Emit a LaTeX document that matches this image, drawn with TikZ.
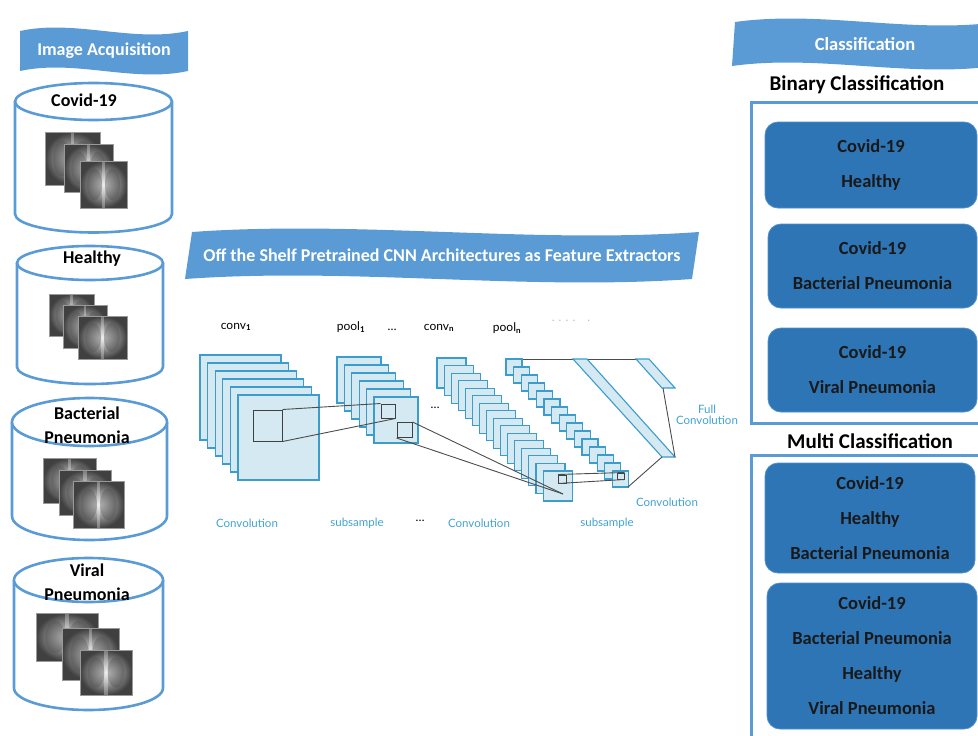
\documentclass[tikz,border=0pt]{standalone}
\usepackage{fontspec}
\setmainfont{Carlito}
\newfontfamily\latofont{Lato}
\usepackage{tikz}
\usetikzlibrary{calc}

\definecolor{bannerblue}{HTML}{5B9BD5}
\definecolor{cylblue}{HTML}{5B9BD5}
\definecolor{boxblue}{HTML}{2E75B6}
\definecolor{boxedge}{HTML}{4F8FCB}
\definecolor{framecol}{HTML}{5B9BD5}
\definecolor{cnnfill}{HTML}{D4E9F2}
\definecolor{cnnline}{HTML}{3B9DCB}
\definecolor{cnntext}{HTML}{41A3D3}

\tikzset{
	bannertext/.style={text=white, font=\bfseries, inner sep=0pt},
	cylline/.style={draw=cylblue, line width=2.6pt, fill=white},
	cyllabel/.style={font=\bfseries\fontsize{18}{24}\selectfont, align=center, inner sep=0pt},
	fmap/.style={fill=cnnfill, draw=cnnline, line width=1.1pt},
	win/.style={draw=black!75, line width=1pt, inner sep=0pt},
	link/.style={draw=black!70, line width=0.9pt},
	cnnlabel/.style={font=\latofont\fontsize{12}{13}\selectfont, inner sep=0pt},
	cnnnote/.style={font=\latofont\fontsize{11.5}{11.5}\selectfont, text=cnntext, align=center, inner sep=0pt},
	frameline/.style={draw=framecol, line width=3pt},
	classbox/.style={fill=boxblue, draw=boxedge, line width=0.8pt, rounded corners=13pt,
		font=\bfseries\fontsize{18.5}{35}\selectfont, align=center, text=black!90},
	heading/.style={font=\bfseries\fontsize{21}{24}\selectfont, inner sep=0pt}
}

\newcommand{\banner}[7] % name, left x, top y, right x, bottom y, slant, text
{
	% wavy flag
	\fill[bannerblue] ({#2+#6},#3) .. controls ({#2+#6+0.33*(#4-#2)},{#3-12}) and ({#2+#6+0.67*(#4-#2)},{#3+12}) .. ({#4+#6},#3)
		-- (#4,#5) .. controls ({#2+0.67*(#4-#2)},{#5+12}) and ({#2+0.33*(#4-#2)},{#5-12}) .. (#2,#5) -- cycle;
	% caption
	\node[bannertext] (#1) at ({(#2+#4+#6)/2},{(#3+#5)/2}) {#7};
}

\newcommand{\dbcyl}[5] % left x, right x, top centre y, bottom centre y, y radius
{
	% body
	\draw[cylline] (#1,#3) -- (#1,#4) arc[start angle=180, end angle=0, x radius={(#2-#1)/2}, y radius=#5] -- (#2,#3);
	% lid
	\draw[cylline] ({(#1+#2)/2},#3) ellipse [x radius={(#2-#1)/2}, y radius=#5];
}

\newcommand{\xray}[4] % left x, top y, right x, bottom y
{
	% film
	\shade[inner color=black!8, outer color=black!75] (#1,#2) rectangle (#3,#4);
	% lungs
	\fill[black!70, opacity=0.35] ({#1+0.31*(#3-#1)},{#2+0.5*(#4-#2)}) ellipse [x radius={0.16*(#3-#1)}, y radius={0.34*(#4-#2)}];
	\fill[black!70, opacity=0.35] ({#1+0.69*(#3-#1)},{#2+0.5*(#4-#2)}) ellipse [x radius={0.16*(#3-#1)}, y radius={0.34*(#4-#2)}];
	% spine
	\fill[white, opacity=0.3] ({#1+0.47*(#3-#1)},#2) rectangle ({#1+0.53*(#3-#1)},#4);
	\draw[black!40, line width=0.4pt] (#1,#2) rectangle (#3,#4);
}

\newcommand{\fmaps}[7] % back x, back y, width, height, step x, step y, count
{
	\foreach \i in {1,...,#7}
		\draw[fmap] ({#1+(\i-1)*#5},{#2+(\i-1)*#6}) rectangle ++(#3,#4);
}

\begin{document}
\begin{tikzpicture}[x=1pt, y=-1pt]
	% 978 x 736, y grows downwards
	\useasboundingbox (0,0) rectangle (978,736);
	\clip (0,0) rectangle (978,736);

	% image acquisition
	\banner{acq}{20}{31}{188}{71}{0}{\fontsize{18}{20}\selectfont Image Acquisition}
	\dbcyl{15}{172}{101.5}{214}{18.5}
	\dbcyl{17}{163}{263}{367}{17}
	\dbcyl{12}{167}{422}{516}{24}
	\dbcyl{14}{163}{580}{688}{22}
	\node[cyllabel] (covid) at (84,100) {Covid-19};
	\node[cyllabel] (healthy) at (92,259) {Healthy};
	\node[cyllabel] (bact) at (87,425) {Bacterial\\Pneumonia};
	\node[cyllabel] (viral) at (87,582) {Viral\\Pneumonia};
	\xray{45}{132}{100}{185} \xray{64}{144}{113}{192} \xray{80}{161}{127}{208}
	\xray{49}{294}{94}{336} \xray{63}{305}{107}{348} \xray{78}{316}{127}{359}
	\xray{43}{458}{96}{503} \xray{59}{470}{111}{515} \xray{73}{481}{124}{528}
	\xray{36}{613}{98}{661} \xray{62}{628}{119}{680} \xray{80}{650}{132}{695}

	% feature extractors
	\banner{cnn}{185}{232}{692}{279}{7}{\fontsize{18}{20}\selectfont Off the Shelf Pretrained CNN Architectures as Feature Extractors}
	\node[cnnlabel] (conv1) at (236,327) {conv\textsubscript{\textbf{1}}};
	\node[cnnlabel] (pool1) at (351,327) {pool\textsubscript{\textbf{1}}};
	\node[cnnlabel] (dots1) at (392,330) {\dots};
	\node[cnnlabel] (convn) at (439,328) {conv\textsubscript{\textbf{n}}};
	\node[cnnlabel] (pooln) at (507,328) {pool\textsubscript{\textbf{n}}};
	\node[cnnlabel, text=black!25] (dots2) at (571,321) {. . . .\quad .};

	\fmaps{200}{355}{81}{85}{7.6}{8}{6}
	\fmaps{337}{357}{44}{46}{7.4}{8}{6}
	\node[cnnlabel] (dots3) at (435,408) {\dots};
	\fmaps{437}{358}{29}{30}{7.07}{7.53}{16}
	\coordinate (pnback) at (522,359);
	\coordinate (fullA) at (649,359);
	\draw[link] (pnback) -- (fullA);
	\fmaps{506}{359}{16}{16}{7.6}{8}{15}

	% full convolution slabs
	\filldraw[fmap] (573,359) -- (587,359) -- (675,457) -- (662,457) -- cycle;
	\filldraw[fmap] (636,359) -- (649,359) -- (675,388) -- (662,388) -- cycle;
	\coordinate (fullB) at (663,388);
	\coordinate (fullC) at (675,457);
	\coordinate (fullD) at (662,457);
	\coordinate (pnfront) at (628,487);
	\draw[link] (fullB) -- (fullC);
	\draw[link] (pnfront) -- (fullD);

	% receptive fields
	\node[win, minimum width=29, minimum height=31] (win1) at (267.5,425.5) {};
	\node[win, minimum size=14] (wp1a) at (388,411) {};
	\node[win, minimum size=15] (wp1b) at (404.5,430) {};
	\node[win, minimum size=8] (wcn) at (562.5,479) {};
	\node[win, minimum width=7, minimum height=6] (wpn) at (620.5,476) {};
	\coordinate (cnhit) at (563,494);
	\draw[link] (win1.north east) -- (wp1a.north west);
	\draw[link] (win1.south east) -- (wp1a.south east);
	\draw[link] (wp1b.north east) -- (cnhit);
	\draw[link] (wp1b.south west) -- (cnhit);
	\draw[link] (wcn.north west) -- (wpn.north east);
	\draw[link] (wcn.south west) -- (wpn.south east);

	\node[cnnnote] (lconv1) at (247,523) {Convolution};
	\node[cnnnote] (lsub1) at (357,523) {subsample};
	\node[cnnlabel] (dots4) at (420,521) {\dots};
	\node[cnnnote] (lconvn) at (479,523) {Convolution};
	\node[cnnnote] (lsubn) at (607,523) {subsample};
	\node[cnnnote] (lconvl) at (667,502) {Convolution};
	\node[cnnnote] (lfull) at (707,415) {Full\\Convolution};

	% classification
	\banner{cls}{732}{22}{995}{66}{3}{\fontsize{18.5}{20}\selectfont Classification}
	\node[heading] (binhead) at (857,85) {Binary Classification};
	\draw[frameline] (1000,102) -- (751,102) -- (751,423) -- (1000,423);
	\node[classbox, minimum width=212, minimum height=86] (bin1) at (871,165) {Covid-19\\Healthy};
	\node[classbox, minimum width=209, minimum height=84] (bin2) at (872.5,266) {Covid-19\\Bacterial Pneumonia};
	\node[classbox, minimum width=209, minimum height=84] (bin3) at (872.5,370) {Covid-19\\Viral Pneumonia};
	\node[heading] (multihead) at (870,441) {Multi Classification};
	\draw[frameline] (1000,455) -- (751,455) -- (751,750);
	\node[classbox, minimum width=210, minimum height=110] (multi1) at (870,518) {Covid-19\\Healthy\\Bacterial Pneumonia};
	\node[classbox, minimum width=210, minimum height=146] (multi2) at (872,656) {Covid-19\\Bacterial Pneumonia\\Healthy\\Viral Pneumonia};
\end{tikzpicture}
\end{document}
